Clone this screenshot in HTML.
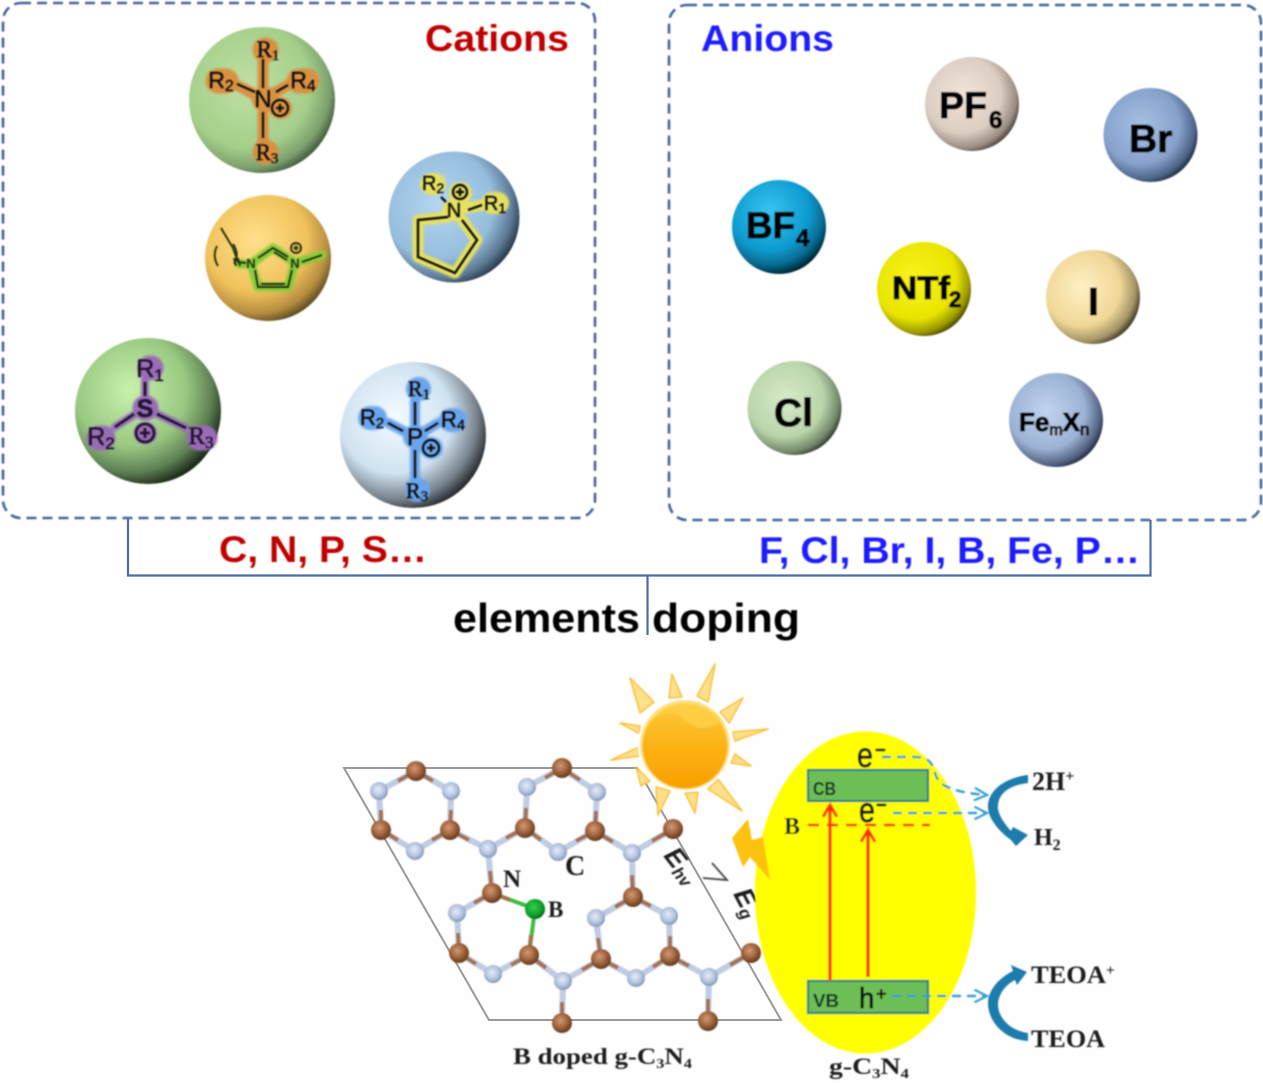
<!DOCTYPE html>
<html><head><meta charset="utf-8"><style>
html,body{margin:0;padding:0;background:#fff}
svg{display:block}
.s{font-family:"Liberation Sans",sans-serif}
.f{font-family:"Liberation Serif",serif;font-weight:bold}
</style></head><body>
<svg width="1263" height="1083" viewBox="0 0 1263 1083" xmlns="http://www.w3.org/2000/svg">
<defs>
<filter id="b" x="-5%" y="-5%" width="110%" height="110%"><feGaussianBlur stdDeviation="0.7"/></filter>
<filter id="h" x="-20%" y="-20%" width="140%" height="140%"><feGaussianBlur stdDeviation="1.200"/></filter>
<radialGradient id="g1" cx=".4" cy=".4" r=".66"><stop offset="0" stop-color="#bfe0a4"/><stop offset=".65" stop-color="#a4cf8a"/><stop offset=".86" stop-color="#7c9f6c"/><stop offset="1" stop-color="#2f4630"/></radialGradient>
<radialGradient id="g2" cx=".38" cy=".4" r=".7"><stop offset="0" stop-color="#b4d6f0"/><stop offset=".6" stop-color="#95bddc"/><stop offset=".82" stop-color="#5a7692"/><stop offset="1" stop-color="#0a121c"/></radialGradient>
<radialGradient id="g3" cx=".4" cy=".36" r=".68"><stop offset="0" stop-color="#ffe08a"/><stop offset=".6" stop-color="#f0c25c"/><stop offset=".85" stop-color="#b68d40"/><stop offset="1" stop-color="#4f4420"/></radialGradient>
<radialGradient id="g4" cx=".38" cy=".36" r=".7"><stop offset="0" stop-color="#c8f2ac"/><stop offset=".55" stop-color="#98c880"/><stop offset=".8" stop-color="#5e8054"/><stop offset="1" stop-color="#0a150a"/></radialGradient>
<radialGradient id="g5" cx=".38" cy=".38" r=".7"><stop offset="0" stop-color="#f4fbff"/><stop offset=".55" stop-color="#cfe2f0"/><stop offset=".8" stop-color="#77828c"/><stop offset="1" stop-color="#0a0c0e"/></radialGradient>
<radialGradient id="a1" cx=".4" cy=".4" r=".68"><stop offset="0" stop-color="#efe4dc"/><stop offset=".6" stop-color="#dccdc0"/><stop offset=".84" stop-color="#9a8c80"/><stop offset="1" stop-color="#1e1a16"/></radialGradient>
<radialGradient id="a2" cx=".4" cy=".4" r=".68"><stop offset="0" stop-color="#a6c0e4"/><stop offset=".6" stop-color="#86a2cc"/><stop offset=".84" stop-color="#4e6488"/><stop offset="1" stop-color="#070c18"/></radialGradient>
<radialGradient id="a3" cx=".4" cy=".33" r=".7"><stop offset="0" stop-color="#38c4ee"/><stop offset=".6" stop-color="#0c9ad0"/><stop offset=".84" stop-color="#06668a"/><stop offset="1" stop-color="#011c26"/></radialGradient>
<radialGradient id="a4" cx=".4" cy=".38" r=".68"><stop offset="0" stop-color="#f8f41c"/><stop offset=".65" stop-color="#e8e400"/><stop offset=".86" stop-color="#9a9800"/><stop offset="1" stop-color="#2c2b04"/></radialGradient>
<radialGradient id="a5" cx=".38" cy=".4" r=".68"><stop offset="0" stop-color="#fff0c4"/><stop offset=".6" stop-color="#efd796"/><stop offset=".84" stop-color="#a29466"/><stop offset="1" stop-color="#201c0e"/></radialGradient>
<radialGradient id="a6" cx=".4" cy=".4" r=".68"><stop offset="0" stop-color="#d6ecc8"/><stop offset=".6" stop-color="#bad4aa"/><stop offset=".84" stop-color="#72886a"/><stop offset="1" stop-color="#0d140c"/></radialGradient>
<radialGradient id="a7" cx=".4" cy=".4" r=".68"><stop offset="0" stop-color="#c0d4ee"/><stop offset=".6" stop-color="#9cb2d4"/><stop offset=".84" stop-color="#546484"/><stop offset="1" stop-color="#070c18"/></radialGradient>
<radialGradient id="cA" cx=".42" cy=".38" r=".62"><stop offset="0" stop-color="#d09a78"/><stop offset=".5" stop-color="#a86a42"/><stop offset="1" stop-color="#663a1e"/></radialGradient>
<radialGradient id="nA" cx=".45" cy=".42" r=".6"><stop offset="0" stop-color="#e4ecf8"/><stop offset=".6" stop-color="#b4c4e0"/><stop offset="1" stop-color="#8092b4"/></radialGradient>
<radialGradient id="bA" cx=".42" cy=".4" r=".6"><stop offset="0" stop-color="#34d04c"/><stop offset=".7" stop-color="#0ca02a"/><stop offset="1" stop-color="#056a18"/></radialGradient>
<linearGradient id="sun" x1="0" y1="0" x2="0" y2="1"><stop offset="0" stop-color="#fdc83c"/><stop offset=".55" stop-color="#fbb010"/><stop offset="1" stop-color="#f8a000"/></linearGradient>
<marker id="ra" markerWidth="5" markerHeight="5" refX="4" refY="2.5" orient="auto" markerUnits="strokeWidth"><path d="M.3 .3L4 2.5L.3 4.700" fill="none" stroke="#ff2a10" stroke-width=".9"/></marker>
<marker id="ba" markerWidth="7" markerHeight="7" refX="6" refY="3.500" orient="auto" markerUnits="strokeWidth"><path d="M1 1L6 3.500L1 6" fill="none" stroke="#3aa0cc" stroke-width=".9"/></marker>
</defs>

<rect x="330" y="655" width="805" height="428" fill="#fefefe"/>

<!-- boxes -->
<g fill="none" stroke="#45659c" stroke-width="2.600" stroke-dasharray="10 6" filter="url(#b)">
<rect x="3" y="3" width="592" height="515" rx="18"/>
<rect x="669" y="5" width="592" height="515" rx="18"/>
</g>
<path d="M128 518V575.500H1150.500V520M647.500 575V635" fill="none" stroke="#4a6fa5" stroke-width="2.200"/>

<g class="s" font-weight="bold" font-size="37" filter="url(#b)">
<text x="425" y="51" fill="#c00000" textLength="144" lengthAdjust="spacingAndGlyphs">Cations</text>
<text x="701" y="51" fill="#1a1aff" textLength="133" lengthAdjust="spacingAndGlyphs">Anions</text>
<text x="219" y="562" fill="#c00000" textLength="208" lengthAdjust="spacingAndGlyphs">C, N, P, S…</text>
<text x="759" y="563" fill="#1a1aff" textLength="381" lengthAdjust="spacingAndGlyphs">F, Cl, Br, I, B, Fe, P…</text>
<text x="453" y="632" fill="#000" font-size="41" textLength="187" lengthAdjust="spacingAndGlyphs">elements</text>
<text x="652" y="632" fill="#000" font-size="41" textLength="148" lengthAdjust="spacingAndGlyphs">doping</text>
</g>

<!-- cation spheres -->
<g filter="url(#b)">
<circle cx="262" cy="100" r="73" fill="url(#g1)"/>
<circle cx="454" cy="217" r="65.500" fill="url(#g2)"/>
<circle cx="268" cy="258" r="63" fill="url(#g3)"/>
<circle cx="148" cy="411" r="73" fill="url(#g4)"/>
<circle cx="413" cy="435" r="73" fill="url(#g5)"/>
</g>

<!-- halos -->
<g fill="none" stroke-linecap="round" stroke-linejoin="round" filter="url(#h)">
<g stroke="#d99040" stroke-width="11"><path d="M263 60V140M235 84L263 99L288 85"/></g>
<g stroke="#d99040" stroke-width="25"><path d="M265 50h1M218 81h8M299 81h8M265 152h1M264 99h1"/></g>
<g stroke="#d99040" stroke-width="22"><path d="M280 108h1"/></g>
<g stroke="#e6e060" stroke-width="11"><path d="M448 217L418 220V257L455 273L477 240L462 220M453 210L495 203"/></g>
<g stroke="#e6e060" stroke-width="22"><path d="M431 184h4M460 193h1M453 210h1M492 203h6"/></g>
<g stroke="#86cc3a" stroke-width="9"><path d="M240 264H251L273 248L295 263L322 255M258 287H288L295 263M251 263L258 287"/></g>
<g stroke="#9a6cb8" stroke-width="8"><path d="M145 380V408L115 427M145 408L186 428"/></g>
<g stroke="#9a6cb8" stroke-width="25"><path d="M150 368h1M99 438h4M199 438h6M145 408h1"/></g>
<g stroke="#9a6cb8" stroke-width="22"><path d="M145 433h1"/></g>
<g stroke="#6aa4ec" stroke-width="10"><path d="M415 400V480M388 423L415 437L438 423"/></g>
<g stroke="#6aa4ec" stroke-width="24"><path d="M418 389h1M370 418h5M451 420h4M417 490h1M415 437h1"/></g>
<g stroke="#6aa4ec" stroke-width="22"><path d="M431 448h1"/></g>
</g>

<!-- molecules -->
<g filter="url(#b)">
<g fill="none" stroke="#111" stroke-width="2.200"><path d="M263 59V88M237 84L255 92M276 92L288 85M263 112V138"/>
<circle cx="280" cy="108" r="8"/><path d="M276 108H284M280 104V112"/></g>
<g fill="#111" stroke="#111" stroke-width=".4" font-size="23" text-anchor="middle">
<text class="f" style="font-weight:normal" x="268" y="57">R<tspan font-size="15" dy="3">1</tspan></text>
<text class="s" x="221" y="88">R<tspan font-size="16" dy="3">2</tspan></text>
<text class="s" x="303" y="88">R<tspan font-size="16" dy="3">4</tspan></text>
<text class="f" style="font-weight:normal" x="267" y="160">R<tspan font-size="15" dy="3">3</tspan></text>
<text class="s" x="263" y="107" font-size="24">N</text>
</g>

<g fill="none" stroke="#111" stroke-width="2.400"><path d="M448 217L418 220V257L455 273L477 240L462 220M468 210L482 205M446 202L441 197"/>
<circle cx="460" cy="192" r="7"/><path d="M456 192H464M460 188V196"/></g>
<g class="s" fill="#111" stroke="#111" stroke-width=".4" font-size="20" text-anchor="middle">
<text x="433" y="190">R<tspan font-size="14" dy="3">2</tspan></text>
<text x="495" y="210">R<tspan font-size="14" dy="3">1</tspan></text>
<text x="454" y="217" font-size="20">N</text>
</g>

<g fill="none" stroke="#24300c" stroke-width="1.900"><path d="M258 258L273 248L288 257M274 252L287 260M255 270L258 287H288L292 270M261 284H285M302 262L322 255M221 228L233 248L238 262L246 263M217 246Q212 256 218 266M233 244Q240 254 234 264M234 258L236 266M238 258L240 266"/>
<circle cx="296" cy="248" r="5"/><path d="M293.500 248H298.500M296 245.500V250.500"/></g>
<g class="s" fill="#24300c" font-size="13" font-weight="bold" text-anchor="middle"><text x="251" y="268">N</text><text x="295" y="268">N</text></g>

<g fill="none" stroke="#241430" stroke-width="2.800"><path d="M145 382V396M134 414L115 427M157 414L186 428"/>
<circle cx="145" cy="433" r="9"/><path d="M140 433H150M145 428V438"/></g>
<g class="s" fill="#241430" stroke="#241430" stroke-width=".6" font-size="25" text-anchor="middle">
<text x="150" y="377">R<tspan font-size="17" dy="4">1</tspan></text>
<text x="101" y="445">R<tspan font-size="17" dy="4">2</tspan></text>
<text x="145" y="417" font-weight="bold">S</text>
<text style="font-family:'Liberation Serif',serif" x="201" y="444">R<tspan font-size="17" dy="4">3</tspan></text>
</g>

<g fill="none" stroke="#111" stroke-width="2.200"><path d="M415 402V425M388 423L403 431M425 431L438 423M415 450V478"/>
<circle cx="431" cy="448" r="8"/><path d="M427 448H435M431 444V452"/></g>
<g fill="#111" stroke="#111" stroke-width=".4" font-size="22" text-anchor="middle">
<text class="f" style="font-weight:normal" x="419" y="396">R<tspan font-size="15" dy="3">1</tspan></text>
<text class="s" x="372" y="425">R<tspan font-size="15" dy="3">2</tspan></text>
<text class="s" x="453" y="427">R<tspan font-size="15" dy="3">4</tspan></text>
<text class="f" style="font-weight:normal" x="417" y="498">R<tspan font-size="15" dy="3">3</tspan></text>
<text class="s" x="415" y="445" font-size="24">P</text>
</g>
</g>

<!-- anions -->
<g filter="url(#b)">
<circle cx="972" cy="104" r="47" fill="url(#a1)"/>
<circle cx="1150.500" cy="135" r="47" fill="url(#a2)"/>
<circle cx="779" cy="227" r="47" fill="url(#a3)"/>
<circle cx="924" cy="289" r="47" fill="url(#a4)"/>
<circle cx="1093" cy="297" r="47" fill="url(#a5)"/>
<circle cx="794.500" cy="408" r="47" fill="url(#a6)"/>
<circle cx="1056" cy="420" r="47" fill="url(#a7)"/>
<g class="s" font-weight="bold" fill="#050505" stroke="#050505" stroke-width="1" font-size="37">
<text x="939" y="118" textLength="48" lengthAdjust="spacingAndGlyphs">PF</text>
<text x="989" y="128" font-size="24">6</text>
<text x="1129" y="152" font-size="39">Br</text>
<text x="746" y="238" textLength="49" lengthAdjust="spacingAndGlyphs">BF</text>
<text x="796" y="246" font-size="24">4</text>
<text x="892" y="299" font-size="32" textLength="58" lengthAdjust="spacingAndGlyphs">NTf</text>
<text x="949" y="307" font-size="22">2</text>
<text x="1088" y="315" font-size="39">I</text>
<text x="774" y="426" font-size="39">Cl</text>
<text x="1019" y="431" font-size="26">Fe<tspan font-size="16" font-weight="normal" dy="4">m</tspan><tspan dy="-4">X</tspan><tspan font-size="17" font-weight="normal" dy="4">n</tspan></text>
</g>
</g>

<!-- lattice -->
<path d="M344 768H637L781 1020H489Z" fill="none" stroke="#999" stroke-width="2"/>
<g filter="url(#b)">
<g stroke="#c0cce2" stroke-width="6" fill="none" stroke-linecap="round">
<path d="M416 771L379 791L381 830L415 851L450 830L451 791L416 771M450 830L488 849L525 828L527 787L562 768L597 792L595 831L558 852L525 828M595 831L632 853L673 829M488 849L492 893L457 913L459 953L493 974L529 955L563 981L601 959L636 978L670 956L669 916L633 897L596 918L601 959M632 853L633 897M670 956L709 977L751 953M709 977L708 1021M563 981L562 1023"/>
</g>
<g stroke="#a5714e" stroke-width="4" fill="none">
<path d="M416 771L398 781M416 771L433 781M381 830V810M450 830L451 810M381 830L398 840M450 830L432 840M450 830L469 840M525 828L506 838M525 828L526 808M562 768L545 778M562 768L580 780M595 831L596 811M525 828L541 840M595 831L576 841M595 831L613 842M673 829L652 841M492 893L490 871M492 893L474 903M459 953L458 933M459 953L476 964M529 955L511 965M529 955L546 968M601 959L582 970M601 959L598 938M601 959L618 968M670 956L653 967M670 956V936M633 897L632 875M633 897L615 907M633 897L651 906M670 956L689 966M751 953L730 965M708 1021V999M562 1023V1002"/>
</g>
<path d="M492 893L535 909L529 955" stroke="#3cbc3c" stroke-width="4" fill="none"/>
<path d="M510 900L492 893M531 935L529 955" stroke="#a5714e" stroke-width="4" fill="none"/>
<g fill="url(#nA)">
<circle cx="379" cy="791" r="9"/><circle cx="451" cy="791" r="9"/><circle cx="415" cy="851" r="9"/>
<circle cx="527" cy="787" r="9"/><circle cx="597" cy="792" r="9"/><circle cx="558" cy="852" r="9"/>
<circle cx="488" cy="849" r="9"/><circle cx="632" cy="853" r="9"/>
<circle cx="457" cy="913" r="9"/><circle cx="493" cy="974" r="9"/><circle cx="563" cy="981" r="9"/>
<circle cx="596" cy="918" r="9"/><circle cx="669" cy="916" r="9"/><circle cx="636" cy="978" r="9"/><circle cx="709" cy="977" r="9"/>
</g>
<g fill="url(#cA)">
<circle cx="416" cy="771" r="10"/><circle cx="381" cy="830" r="10"/><circle cx="450" cy="830" r="10"/>
<circle cx="562" cy="768" r="10"/><circle cx="525" cy="828" r="10"/><circle cx="595" cy="831" r="10"/>
<circle cx="673" cy="829" r="10"/><circle cx="492" cy="893" r="10"/><circle cx="459" cy="953" r="10"/>
<circle cx="529" cy="955" r="10"/><circle cx="562" cy="1023" r="10"/><circle cx="633" cy="897" r="10"/>
<circle cx="601" cy="959" r="10"/><circle cx="670" cy="956" r="10"/><circle cx="751" cy="953" r="10"/><circle cx="708" cy="1021" r="10"/>
</g>
<circle cx="535" cy="909" r="10" fill="url(#bA)"/>
<g class="f" fill="#1c1c1c">
<text x="503" y="887" font-size="25">N</text>
<text x="565" y="875" font-size="28">C</text>
<text x="548" y="917" font-size="23">B</text>
<text x="513" y="1064" font-size="23" textLength="179" lengthAdjust="spacingAndGlyphs">B doped g-C<tspan font-size="14" dy="4">3</tspan><tspan dy="-4">N</tspan><tspan font-size="14" dy="4">4</tspan></text>
<text x="829" y="1074" font-size="23" textLength="80" lengthAdjust="spacingAndGlyphs">g-C<tspan font-size="14" dy="4">3</tspan><tspan dy="-4">N</tspan><tspan font-size="14" dy="4">4</tspan></text>
</g>
<g fill="#1c1c1c" font-size="27" font-weight="bold" font-style="italic" class="s">
<text transform="translate(663 856) rotate(52)">E<tspan font-size="17" dy="4">hv</tspan></text>
<text transform="translate(733 894) rotate(62)">E<tspan font-size="17" dy="4">g</tspan></text>
</g>
<path d="M712 863L727 880L703 878" fill="none" stroke="#444" stroke-width="1.800"/>
</g>

<!-- sun + photochem -->
<g filter="url(#b)">
<ellipse cx="865.500" cy="892.500" rx="110.500" ry="161" fill="#ffff00"/>
<g fill="#fde08a" stroke="#fbc030" stroke-width="1.500" stroke-linejoin="round">
<path d="M630 678L654 702L640 713Z"/><path d="M672 674L682 697L669 698Z"/><path d="M715 664L697 696L708 702Z"/>
<path d="M743 698L720 712L729 723Z"/><path d="M768 729L733 732L735 741Z"/><path d="M620 723L640 726L640 734Z"/>
<path d="M611 760L641 746L639 756Z"/><path d="M751 766L735 754L731 763Z"/><path d="M742 811L718 779L708 789Z"/>
<path d="M636 767L650 781L641 786Z"/><path d="M658 815L670 791L656 787Z"/><path d="M695 813L698 792L685 793Z"/>
</g>
<circle cx="685" cy="745" r="47" fill="#fff"/>
<circle cx="685" cy="745" r="45" fill="#fde07a"/>
<circle cx="685" cy="746" r="42.500" fill="url(#sun)"/>
<path d="M650 722C665 700 705 695 722 722C705 732 695 730 680 716C670 710 660 715 650 722Z" fill="#fdd24a" opacity=".7"/>
<path d="M732 838L748 819L752 840L763 837L770 880L750 857L743 867Z" fill="#fdc20c"/>
<g fill="#6dbf54" stroke="#2b7d8e" stroke-width="2.200">
<rect x="808" y="770" width="120" height="31"/>
<rect x="808" y="981" width="120" height="32"/>
</g>
<g class="s" fill="#0e2c2c" font-size="18" font-weight="bold">
<text x="813" y="795" textLength="23" lengthAdjust="spacingAndGlyphs">CB</text>
<text x="813" y="1007" textLength="26" lengthAdjust="spacingAndGlyphs">VB</text>
</g>
<g stroke="#ff2a10" stroke-width="3.200" fill="none">
<path d="M830 981V805" marker-end="url(#ra)"/>
<path d="M868 977V830" marker-end="url(#ra)"/>
</g>
<path d="M808 825H930" stroke="#ff2a10" stroke-width="2.400" stroke-dasharray="11 8" fill="none"/>
<g class="s" fill="#111" stroke="#111" stroke-width=".8">
<text transform="translate(857 767) scale(.82 1)" font-size="35">e</text>
<text x="875" y="756" font-size="18" font-weight="bold">−</text>
<text transform="translate(859 822) scale(.82 1)" font-size="35">e</text>
<text x="876" y="811" font-size="18" font-weight="bold">−</text>
<text transform="translate(859 1008) scale(.95 1)" font-size="29">h</text>
<text x="876" y="1000" font-size="18">+</text>
</g>
<text class="f" x="784" y="834" font-size="24" fill="#222">B</text>
<g stroke="#3aa0cc" stroke-width="2.500" fill="none" stroke-dasharray="9 6">
<path d="M882 757H915C935 757 932 770 938 780C944 788 960 793 987 795" marker-end="url(#ba)"/>
<path d="M893 813H987" marker-end="url(#ba)"/>
<path d="M892 996H987" marker-end="url(#ba)"/>
</g>
<g fill="#1c7cac">
<path d="M1028 775C1003 778 987 792 988 808C989 820 1000 832 1011 840L1016 846L1028 835L1013 827L1011 831C1003 822 997 813 998 805C999 793 1010 785 1028 783Z"/>
<path d="M1028 1033C1007 1030 998 1015 998 1005C998 995 1005 985 1015 980L1017 985L1027 972L1011 965L1013 971C1000 977 988 990 988 1003C988 1022 1005 1040 1028 1041Z"/>
</g>
<g class="f" fill="#1a1a1a" font-size="25">
<text x="1032" y="790" font-size="26">2H<tspan font-size="16" dy="-9">+</tspan></text>
<text x="1034" y="845" font-size="24">H<tspan font-size="16" dy="5">2</tspan></text>
<text x="1031" y="983" textLength="84" lengthAdjust="spacingAndGlyphs">TEOA<tspan font-size="15" dy="-8">+</tspan></text>
<text x="1031" y="1047" textLength="74" lengthAdjust="spacingAndGlyphs">TEOA</text>
</g>
</g>
</svg>
</body></html>
